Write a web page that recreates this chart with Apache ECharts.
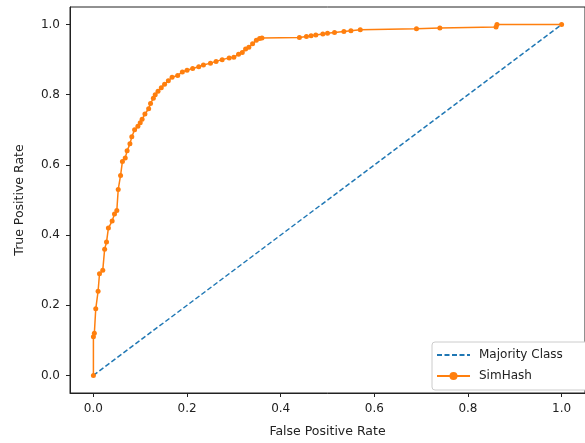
<!DOCTYPE html>
<html>
<head>
<meta charset="utf-8">
<script src="https://cdn.jsdelivr.net/npm/echarts@6/dist/echarts.min.js"></script>
<style>html,body{margin:0;padding:0;background:#fff}#c{width:585px;height:443px}</style>
</head>
<body>
<div id="c"></div>
<script>
const tickValues = [0.0, 0.2, 0.4, 0.6, 0.8, 1.0];
const baselineFpr = [0, 1];
const baselineTpr = [0, 1];
const simFpr = [0, 0, 0.002, 0.005, 0.01, 0.013, 0.02, 0.024, 0.028, 0.032, 0.04, 0.045, 0.05, 0.053, 0.058, 0.062, 0.068, 0.072, 0.078, 0.082, 0.088, 0.095, 0.100, 0.104, 0.11, 0.118, 0.122, 0.128, 0.132, 0.138, 0.145, 0.152, 0.16, 0.168, 0.18, 0.19, 0.2, 0.212, 0.225, 0.235, 0.25, 0.262, 0.275, 0.29, 0.3, 0.31, 0.318, 0.325, 0.332, 0.34, 0.348, 0.355, 0.36, 0.44, 0.455, 0.465, 0.475, 0.49, 0.50, 0.515, 0.535, 0.55, 0.57, 0.69, 0.74, 0.86, 0.862, 1.0];
const simTpr = [0, 0.11, 0.12, 0.19, 0.24, 0.29, 0.30, 0.36, 0.38, 0.42, 0.44, 0.46, 0.47, 0.53, 0.57, 0.61, 0.62, 0.64, 0.66, 0.68, 0.70, 0.71, 0.72, 0.73, 0.745, 0.76, 0.775, 0.79, 0.80, 0.81, 0.82, 0.83, 0.84, 0.85, 0.855, 0.865, 0.87, 0.875, 0.88, 0.885, 0.89, 0.895, 0.9, 0.905, 0.907, 0.915, 0.92, 0.93, 0.935, 0.945, 0.955, 0.96, 0.962, 0.963, 0.966, 0.968, 0.97, 0.973, 0.975, 0.977, 0.98, 0.982, 0.985, 0.988, 0.99, 0.993, 1.0, 1.0];

const zip = (a, b) => a.map((v, i) => [v, b[i]]);
const font = 'DejaVu Sans';
const chart = echarts.init(document.getElementById('c'), null, {renderer: 'canvas'});
chart.setOption({
  animation: false,
  backgroundColor: '#fff',
  grid: {left: 70, top: 7, width: 524, height: 390, show: true, borderColor: '#222', borderWidth: 1, backgroundColor: 'transparent'},
  xAxis: {
    type: 'value', min: -0.05, max: 1.05,
    name: 'False Positive Rate', nameLocation: 'middle', nameGap: 32,
    nameTextStyle: {fontFamily: font, fontSize: 12.5, color: '#222'},
    axisLine: {show: true, onZero: false, lineStyle: {color: '#222', width: 1}},
    axisTick: {show: true, length: 4, customValues: tickValues, lineStyle: {color: '#222'}},
    axisLabel: {customValues: tickValues, margin: 10, fontFamily: font, fontSize: 12, color: '#222', formatter: v => v.toFixed(1)},
    splitLine: {show: false}
  },
  yAxis: {
    type: 'value', min: -0.05, max: 1.05,
    name: 'True Positive Rate', nameLocation: 'middle', nameGap: 44,
    nameTextStyle: {fontFamily: font, fontSize: 12.5, color: '#222'},
    axisLine: {show: true, onZero: false, lineStyle: {color: '#222', width: 1}},
    axisTick: {show: true, length: 4, customValues: tickValues, lineStyle: {color: '#222'}},
    axisLabel: {customValues: tickValues, margin: 10, fontFamily: font, fontSize: 12, color: '#222', formatter: v => v.toFixed(1)},
    splitLine: {show: false}
  },
  legend: {
    left: 432, top: 342, orient: 'vertical',
    backgroundColor: '#fff', borderColor: '#ccc', borderWidth: 1, borderRadius: 3,
    padding: [7, 40, 8, 4], itemGap: 9, itemWidth: 33, itemHeight: 10,
    textStyle: {fontFamily: font, fontSize: 12, color: '#222', padding: [0, 0, 0, 4]},
    data: [
      {name: 'Majority Class', itemStyle: {color: 'rgba(0,0,0,0)', borderWidth: 0}},
      {name: 'SimHash', itemStyle: {color: '#ff7f0e', borderWidth: 0}}
    ]
  },
  series: [
    {
      name: 'Majority Class', type: 'line', data: zip(baselineFpr, baselineTpr),
      symbol: 'none', color: '#1f77b4',
      lineStyle: {color: '#1f77b4', width: 1.5, type: [5, 2.5]}
    },
    {
      name: 'SimHash', type: 'line', data: zip(simFpr, simTpr),
      symbol: 'circle', symbolSize: 5, showAllSymbol: true, color: '#ff7f0e',
      itemStyle: {color: '#ff7f0e', borderWidth: 0},
      lineStyle: {color: '#ff7f0e', width: 1.5}
    }
  ]
});
</script>
</body>
</html>
